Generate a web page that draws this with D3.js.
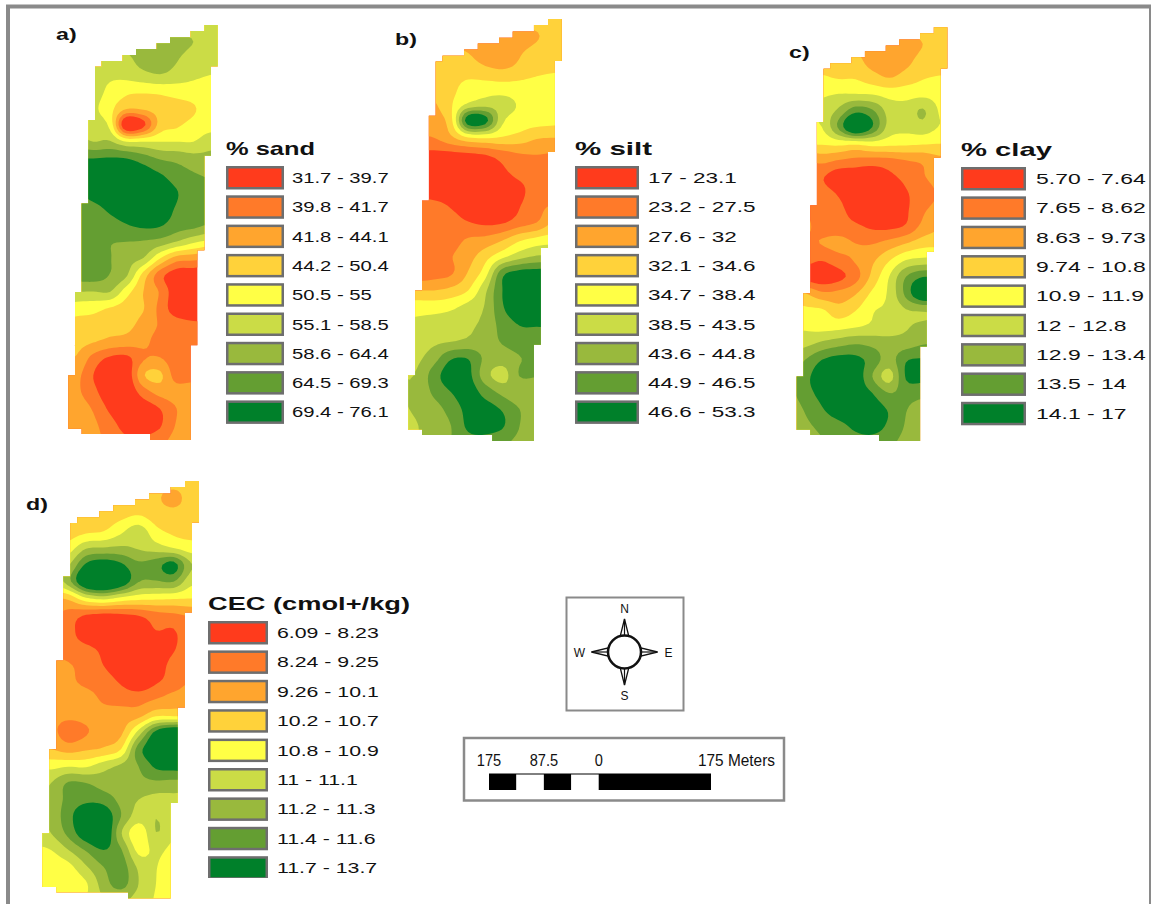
<!DOCTYPE html>
<html>
<head>
<meta charset="utf-8">
<script src="https://cdn.jsdelivr.net/npm/d3@7"></script>
<style>
html, body { margin: 0; padding: 0; background: #fff; overflow: hidden; }
text { font-family: "Liberation Sans", Arial, sans-serif; fill: #111; }
</style>
</head>
<body>
<svg id="chart" width="1151" height="904"></svg>
<script>
// class colours, lowest to highest, same order on all four legends
const classColors = ['#ff3b1c', '#ff7a29', '#ffa52e', '#ffd23a', '#ffff45', '#cbdc46', '#99b93d', '#649e32', '#00802a'];

const sandLabels = ['31.7 - 39.7', '39.8 - 41.7', '41.8 - 44.1', '44.2 - 50.4', '50.5 - 55', '55.1 - 58.5', '58.6 - 64.4', '64.5 - 69.3', '69.4 - 76.1'];
const siltLabels = ['17 - 23.1', '23.2 - 27.5', '27.6 - 32', '32.1 - 34.6', '34.7 - 38.4', '38.5 - 43.5', '43.6 - 44.8', '44.9 - 46.5', '46.6 - 53.3'];
const clayLabels = ['5.70 - 7.64', '7.65 - 8.62', '8.63 - 9.73', '9.74 - 10.8', '10.9 - 11.9', '12 - 12.8', '12.9 - 13.4', '13.5 - 14', '14.1 - 17'];
const cecLabels = ['6.09 - 8.23', '8.24 - 9.25', '9.26 - 10.1', '10.2 - 10.7', '10.8 - 10.9', '11 - 11.1', '11.2 - 11.3', '11.4 - 11.6', '11.7 - 13.7'];

// field boundary in raster cells
const fieldOutline = [
  [20.4, 0], [22.4, 0], [22.4, 6.2], [21.4, 6.2], [21.4, 19.6], [20.4, 19.6], [20.4, 33.75], [19.35, 33.75],
  [19.35, 48], [18.35, 48], [18.35, 62.2], [12.25, 62.2], [12.25, 61.3], [2, 61.3], [2, 60.5], [0, 60.5],
  [0, 52.5], [1, 52.5], [1, 40], [2, 40], [2, 26.75], [3, 26.75], [3, 14.25], [4, 14.25], [4, 6.25], [5, 6.25],
  [5, 5.4], [8.15, 5.4], [8.15, 4.5], [10.15, 4.5], [10.15, 3.6], [13.25, 3.6], [13.25, 2.75], [15.25, 2.75],
  [15.25, 1.85], [18.35, 1.85], [18.35, 0.9], [20.4, 0.9]
];

// sampled surfaces, read off the maps: value k..k+1 falls in legend class k
// 11 columns x 27 rows, every 2.5 raster cells
const sandGrid = [
  [5.5,5.5,5.5,5.5,5.5,5.5,5.5,5.5,5.5,5.5,5.5],
  [5.5,5.5,5.5,5.5,5.5,5.5,5.5,5.5,5.5,5.5,5.5],
  [6.3,6.3,6.3,6.3,6.3,6.3,6.4,6.4,6.0,5.5,5.5],
  [5.5,5.5,5.5,5.5,5.8,6.4,6.5,6.1,5.5,5.5,5.5],
  [5.5,5.5,5.5,5.2,5.3,5.7,5.95,5.6,5.2,5.0,4.9],
  [5.5,5.5,5.5,4.7,4.2,4.1,4.2,4.4,4.5,4.5,4.5],
  [5.2,5.2,5.2,4.3,3.1,3.2,3.5,3.6,3.9,4.5,4.5],
  [5.4,5.4,5.4,4.7,-0.3,0.7,3.4,3.85,4.3,4.6,4.6],
  [6.5,6.5,6.0,6.1,5.0,5.0,5.0,5.0,5.0,5.6,5.6],
  [8,8,8.0,8.1,8.0,7.5,6.9,6.7,6.4,6.3,6.3],
  [8.5,8.5,8.6,8.7,8.6,8.5,8.1,7.5,7.1,6.9,6.8],
  [7.8,7.9,8.5,8.7,8.7,8.6,8.5,8.05,7.4,7.2,7.2],
  [7.4,7.4,7.7,8.2,8.6,8.6,8.5,7.9,7.3,7.1,7.1],
  [7.4,7.4,7.5,7.6,7.95,8.2,8.1,7.5,7.3,6.9,6.9],
  [7.5,7.5,7.3,7.05,7.0,6.9,6.6,5.95,5.2,4.7,4.6],
  [7.5,7.5,7.6,7.05,6.4,5.95,4.0,2.5,2.3,2.0,2.0],
  [7.3,7.4,7.5,6.95,6.1,3.6,1.4,0.4,0.3,0.2,0.2],
  [6.0,6.0,5.95,6.0,4.4,3.0,1.9,0.3,0.2,0.2,0.2],
  [4.7,4.4,4.3,3.9,3.5,3.05,1.7,0.4,0.3,0.3,0.3],
  [3.6,3.7,3.6,3.4,3.3,2.6,1.9,1.5,1.2,1.2,1.2],
  [3.2,3.3,3.05,2.7,2.5,2.2,1.7,1.5,1.4,1.4,1.4],
  [2.9,2.9,1.6,0.8,0.7,1.9,2.05,1.4,1.4,1.4,1.4],
  [2.5,2.3,1.0,0.3,0.3,2.9,3.2,1.5,1.6,1.6,1.6],
  [2.5,2.2,1.3,0.3,0.2,1.5,2.4,2.5,2.6,2.6,2.6],
  [2.5,2.5,1.9,0.8,0.2,0.4,1.0,2.0,2.5,2.5,2.5],
  [2.5,2.5,2.2,1.4,0.6,0.5,0.9,2.1,2.5,2.5,2.5],
  [2.5,2.5,2.3,1.7,1.2,1.2,1.7,2.4,2.5,2.5,2.5]
];

const siltGrid = [
  [3.5,3.5,3.5,3.5,3.5,3.5,3.5,3.5,3.5,3.5,3.5],
  [3.5,3.5,3.5,3.5,3.5,3.5,3.5,3.5,3.5,3.5,3.5],
  [2.6,2.6,2.6,2.6,2.6,2.6,2.5,2.5,2.9,3.5,3.5],
  [3.5,3.5,3.5,3.3,3.0,2.6,2.4,2.9,3.4,3.6,3.6],
  [3.6,3.6,3.6,3.6,3.5,3.2,3.03,3.3,3.7,3.9,3.9],
  [3.4,3.4,3.5,3.7,4.4,4.5,4.4,4.4,4.5,4.5,4.5],
  [2.8,2.8,2.9,3.9,5.1,5.5,5.4,4.9,4.6,4.5,4.5],
  [2.4,2.4,2.5,3.7,8.7,8.4,5.2,4.6,4.4,4.3,4.2],
  [2.0,2.0,2.0,2.8,3.9,4.1,3.9,3.6,3.1,3.0,3.0],
  [0.7,0.7,0.7,0.7,0.8,1.0,1.5,1.9,2.0,1.9,1.9],
  [0.3,0.3,0.3,0.3,0.3,0.4,0.8,1.4,1.6,1.6,1.6],
  [0.5,0.5,0.3,0.3,0.3,0.3,0.3,0.75,1.5,1.6,1.6],
  [1.5,1.4,1.3,0.9,0.4,0.3,0.3,0.95,1.7,2.05,2.05],
  [1.5,1.5,1.5,1.4,1.05,0.8,0.9,1.5,2.0,3.1,3.1],
  [1.5,1.5,1.5,1.6,2.1,2.3,2.9,3.8,4.3,4.6,4.7],
  [1.5,1.5,1.5,1.95,2.6,3.6,4.7,5.6,6.1,6.1,6.1],
  [1.5,1.4,1.6,1.9,3.1,4.6,7.7,8.4,8.5,8.5,8.5],
  [3.0,3.0,3.0,3.3,4.0,5.8,8.0,8.5,8.6,8.6,8.6],
  [4.5,4.6,4.6,4.8,5.4,6.1,7.9,8.7,8.8,8.8,8.8],
  [5.1,5.2,5.4,5.6,5.8,6.3,7.4,8.05,8.1,8.1,8.1],
  [5.4,5.5,5.8,5.95,6.2,6.5,7.1,7.5,7.5,7.5,7.5],
  [5.7,5.8,6.6,7.9,7.95,6.8,6.5,6.95,7.3,7.3,7.3],
  [6.0,6.1,7.5,8.6,8.3,6.4,5.6,7.05,7.1,7.1,7.1],
  [6.0,6.2,7.2,8.0,8.5,7.6,6.7,6.2,6.1,6.1,6.1],
  [5.8,6.2,6.6,7.4,8.3,8.4,7.9,7.0,6.3,6.3,6.3],
  [5.2,5.95,6.4,7.0,8.2,8.4,8.1,7.0,6.3,6.3,6.3],
  [5.5,6.0,6.3,7.0,7.6,7.6,7.2,6.7,6.3,6.3,6.3]
];

const clayGrid = [
  [3.5,3.5,3.5,3.5,3.5,3.5,3.5,3.5,3.5,3.5,3.5],
  [3.5,3.5,3.5,3.5,3.5,3.5,3.5,3.5,3.5,3.5,3.5],
  [3.2,3.2,3.2,3.2,3.0,2.6,2.5,2.5,3.0,3.5,3.5],
  [3.5,3.5,3.5,3.5,3.3,2.6,2.4,2.7,3.4,3.6,3.6],
  [4.1,4.1,4.1,3.9,3.9,3.4,2.95,3.4,3.9,4.05,4.05],
  [4.9,4.9,4.85,5.0,5.0,4.9,4.6,4.6,4.7,4.6,4.6],
  [5,5,5.3,6.2,7.6,7.1,5.6,5.4,6.1,4.9,4.8],
  [4.9,4.9,5.0,7.2,9.7,8.0,5.6,5.3,5.6,4.95,4.9],
  [4.1,4.1,4.1,4.3,4.2,4.5,4.3,4.2,4.1,4,4],
  [1.9,1.9,2.3,1.95,1.7,1.6,1.7,2.0,2.2,2.7,2.7],
  [1.6,1.6,1.1,0.4,0.4,0.3,0.75,1.3,1.9,2.4,2.4],
  [1.7,1.7,1.4,0.9,0.3,0.3,0.3,0.9,1.5,2.1,2.2],
  [1.9,1.9,1.6,1.3,0.5,0.3,0.3,0.85,1.85,2.3,2.3],
  [2.2,2.2,1.6,1.5,1.2,0.85,0.8,1.15,2.3,2.9,2.9],
  [1.9,1.7,2.05,2.3,2.0,1.95,2.4,3.0,3.6,3.7,3.7],
  [1.1,1.3,1.05,1.6,2.1,2.8,3.9,5.0,5.3,5.3,5.3],
  [0.5,0.5,0.3,0.7,1.6,3.3,5.0,7.0,7.95,7.9,7.9],
  [3.0,3.0,2.2,2.3,2.9,4.2,5.2,7.3,9.3,9.0,9.0],
  [4.4,4.2,4.1,3.4,3.95,4.9,5.2,5.95,6.1,6.2,6.2],
  [4.9,4.8,4.6,4.65,4.9,5.2,5.4,5.9,6.2,6.3,6.3],
  [5.7,5.7,6.2,6.6,6.9,6.7,6.4,6.5,6.9,6.9,6.9],
  [6.2,7.0,8.0,8.4,8.3,7.6,6.6,7.9,8.1,8.1,8.1],
  [7.0,7.7,8.6,8.8,8.7,7.0,5.6,8.1,8.3,8.3,8.3],
  [6.7,7.6,8.3,8.7,8.6,8.0,7.0,7.4,7.3,7.2,7.2],
  [6.2,7.1,7.9,8.5,8.6,8.5,7.9,7.05,6.5,6.4,6.4],
  [6.0,6.7,7.3,7.7,8.2,8.4,7.8,6.9,6.4,6.4,6.4],
  [5.9,6.2,6.9,7.2,7.6,7.6,7.2,6.7,6.3,6.3,6.3]
];

const cecGrid = [
  [3.5,3.5,3.5,3.5,3.5,3.5,3.5,3.5,3.5,3.5,3.5],
  [3.5,3.5,3.5,3.5,3.5,3.5,3.5,3.5,3.5,3.5,3.5],
  [3.5,3.5,3.5,3.5,3.5,3.5,3.5,3.2,2.6,3.5,3.5],
  [3.5,3.5,3.5,3.5,3.5,3.7,3.95,3.5,3.4,3.4,3.4],
  [3.5,3.5,3.5,3.8,4.0,4.8,5.6,4.3,3.8,3.6,3.6],
  [4.3,4.3,4.5,5.9,6.1,6.2,5.9,5.5,5.0,4.5,4.5],
  [5.5,5.5,5.9,8.2,8.8,8.2,7.2,7.6,8.4,6.1,6.0],
  [5.0,5.0,6.6,9.5,10.2,9.0,7.05,6.9,7.0,5.3,5.3],
  [2.9,3.0,3.2,4.8,5.3,4.7,4.3,4.2,4.1,4.0,4.0],
  [2.0,2.1,1.6,0.95,0.7,0.8,1.05,1.6,1.8,2.1,2.1],
  [1.6,1.6,1.3,0.5,0.3,0.3,0.4,0.95,0.9,1.8,1.9],
  [1.9,1.8,1.5,1.2,0.8,0.3,0.3,0.3,0.9,1.7,1.8],
  [2.5,2.4,2.1,1.6,1.0,0.4,0.3,0.4,1.4,1.8,1.8],
  [2.5,2.5,2.2,1.8,1.5,0.9,0.4,0.9,1.5,2.1,2.2],
  [2.5,2.5,2.5,2.4,1.85,1.6,1.6,2.0,2.5,2.6,2.6],
  [2.4,2.3,2.2,2.3,2.4,2.5,2.7,3.9,3.9,3.9,3.9],
  [2.2,2.3,1.5,1.9,2.6,2.8,5.4,8.4,9.5,9.5,9.5],
  [3.0,3.0,2.6,2.9,3.15,4.0,7.5,8.9,9.0,9.0,9.0],
  [4.9,4.7,4.9,4.85,5.6,6.2,7.0,8.2,8.4,8.4,8.4],
  [5.6,6.0,7.1,7.0,6.5,6.4,6.7,6.8,6.7,6.7,6.7],
  [5.8,6.1,7.4,7.8,7.6,6.7,6.0,5.7,5.7,5.7,5.7],
  [5.9,6.2,7.7,8.7,8.9,7.0,5.5,5.98,5.5,5.5,5.5],
  [5.5,6.0,7.3,8.8,9.3,6.1,4.3,5.98,5.2,5.1,5.1],
  [4.8,5.0,6.0,7.1,8.0,7.1,4.7,5.25,4.7,4.6,4.6],
  [4.2,4.3,4.7,5.9,7.0,7.5,5.8,5.05,4.5,4.5,4.5],
  [4.3,4.3,4.4,4.9,6.5,7.4,6.0,5.0,4.5,4.5,4.5],
  [4.4,4.4,4.5,5.0,6.0,6.2,5.6,4.9,4.5,4.5,4.5]
];

// scale bar break points, meters either side of the 0 mark
const scaleBreaks = [-175, -131.25, -87.5, -43.75, 0, 175];
const scaleTicks = [-175, -87.5, 0];

const maps = [
  { letter: 'a)', letterX: 56, letterY: 40, grid: sandGrid, title: '% sand', labels: sandLabels,
    xRange: [68.3, 217.7], yRange: [25, 440], legendX: 226, legendY: 166, swatchW: 58, rowStep: 29.3, textX: 292, textScale: 1.35, titleW: 89 },
  { letter: 'b)', letterX: 395, letterY: 45, grid: siltGrid, title: '% silt', labels: siltLabels,
    xRange: [408.3, 561.7], yRange: [19, 441], legendX: 575, legendY: 166, swatchW: 64, rowStep: 29.3, textX: 648, textScale: 1.5, titleW: 77 },
  { letter: 'c)', letterX: 789, letterY: 58, grid: clayGrid, title: '% clay', labels: clayLabels,
    xRange: [796.7, 947.3], yRange: [27.3, 441], legendX: 961, legendY: 167, swatchW: 65, rowStep: 29.35, textX: 1036, textScale: 1.53, titleW: 91 },
  { letter: 'd)', letterX: 26, letterY: 510, grid: cecGrid, title: 'CEC (cmol+/kg)', labels: cecLabels,
    xRange: [42.3, 199], yRange: [481, 898.3], legendX: 208, legendY: 621, swatchW: 60, rowStep: 29.4, textX: 277, textScale: 1.42, titleW: 202 }
];

const gridCols = 11;
const gridRows = 27;
const upsample = 5;
const thresholds = d3.range(1, classColors.length);

const svg = d3.select('#chart');

// outer frame, heavy on the left and top, thin on the right
svg.append('path')
  .attr('d', 'M8,904V6.5H1151')
  .attr('fill', 'none')
  .attr('stroke', '#8a8a8a')
  .attr('stroke-width', 4);
svg.append('rect').attr('x', 1149).attr('y', 6).attr('width', 2).attr('height', 898).attr('fill', '#8a8a8a');

function catmullRom(p0, p1, p2, p3, t) {
  return 0.5 * (2 * p1 + (p2 - p0) * t + (2 * p0 - 5 * p1 + 4 * p2 - p3) * t * t + (3 * p1 - p0 - 3 * p2 + p3) * t * t * t);
}

// resample the read grid on a finer mesh so band edges come out round
function fineGrid(grid) {
  const w = (gridCols - 1) * upsample + 1;
  const h = (gridRows - 1) * upsample + 1;
  const at = (r, c) => grid[Math.max(0, Math.min(gridRows - 1, r))][Math.max(0, Math.min(gridCols - 1, c))];
  const values = new Array(w * h);
  for (let j = 0; j < h; j++) {
    const r = Math.min(Math.floor(j / upsample), gridRows - 2);
    const v = j / upsample - r;
    for (let i = 0; i < w; i++) {
      const c = Math.min(Math.floor(i / upsample), gridCols - 2);
      const u = i / upsample - c;
      const rows = [-1, 0, 1, 2].map(dr =>
        catmullRom(at(r + dr, c - 1), at(r + dr, c), at(r + dr, c + 1), at(r + dr, c + 2), u));
      values[j * w + i] = catmullRom(rows[0], rows[1], rows[2], rows[3], v);
    }
  }
  return { w, h, values };
}

function stretchedText(parent, str, x, y, size, sx, bold) {
  return parent.append('text')
    .attr('transform', `translate(${x},${y}) scale(${sx},1)`)
    .attr('font-size', size)
    .attr('font-weight', bold ? 700 : 400)
    .text(str);
}

function drawMap(map, i) {
  const x = d3.scaleLinear().domain([0, 22.4]).range(map.xRange);
  const y = d3.scaleLinear().domain([0, 62.2]).range(map.yRange);
  const fine = fineGrid(map.grid);
  // d3.contours puts grid value i at i + 0.5
  const gridX = d3.scaleLinear().domain([0.5, fine.w - 0.5]).range([-1.25, 23.75]);
  const gridY = d3.scaleLinear().domain([0.5, fine.h - 0.5]).range([-2.5, 62.5]);

  const clipId = 'field-' + i;
  svg.append('clipPath').attr('id', clipId)
    .append('path')
    .attr('d', d3.line().x(d => x(d[0])).y(d => y(d[1])).curve(d3.curveLinearClosed)(fieldOutline));

  const g = svg.append('g').attr('clip-path', `url(#${clipId})`);

  // class 0 sits under everything
  g.append('rect')
    .attr('x', map.xRange[0] - 2)
    .attr('y', map.yRange[0] - 2)
    .attr('width', map.xRange[1] - map.xRange[0] + 4)
    .attr('height', map.yRange[1] - map.yRange[0] + 4)
    .attr('fill', classColors[0]);

  const contours = d3.contours()
    .size([fine.w, fine.h])
    .thresholds(thresholds)(fine.values);

  const path = d3.geoPath(d3.geoTransform({
    point: function(px, py) { this.stream.point(x(gridX(px)), y(gridY(py))); }
  }));

  g.selectAll('path.band')
    .data(contours)
    .enter()
    .append('path')
    .attr('class', 'band')
    .attr('fill', d => classColors[d.value])
    .attr('fill-rule', 'evenodd')
    .attr('d', path);

  stretchedText(svg, map.letter, map.letterX, map.letterY, 16, 1.45, true);

  // legend
  const legend = svg.append('g');
  legend.append('text')
    .attr('x', map.legendX)
    .attr('y', map.legendY - 11)
    .attr('font-size', 19)
    .attr('font-weight', 700)
    .attr('textLength', map.titleW)
    .attr('lengthAdjust', 'spacingAndGlyphs')
    .text(map.title);

  const rows = legend.selectAll('g.row')
    .data(map.labels)
    .enter()
    .append('g')
    .attr('class', 'row')
    .attr('transform', (d, k) => `translate(0,${map.legendY + k * map.rowStep})`);

  rows.append('rect')
    .attr('x', map.legendX + 1.25)
    .attr('y', 1.25)
    .attr('width', map.swatchW - 2.5)
    .attr('height', 21)
    .attr('fill', (d, k) => classColors[k])
    .attr('stroke', '#6e6e6e')
    .attr('stroke-width', 2.5);

  rows.each(function(d) {
    stretchedText(d3.select(this), d, map.textX, 17, 15, map.textScale, false);
  });
}

maps.forEach(drawMap);

// white strip hides the bottom edge of the last CEC swatch, as in the source image
svg.append('rect').attr('x', 205).attr('y', 878).attr('width', 68).attr('height', 8).attr('fill', '#fff');

// north arrow
const compass = svg.append('g');
compass.append('rect')
  .attr('x', 566.5).attr('y', 597.5).attr('width', 117).attr('height', 113)
  .attr('fill', '#fff').attr('stroke', '#8a8a8a').attr('stroke-width', 2);
const compassX = 624.5;
const compassY = 652;
[0, 90, 180, 270].forEach(angle => {
  const spike = compass.append('g')
    .attr('transform', `translate(${compassX},${compassY}) rotate(${angle})`);
  spike.append('path')
    .attr('d', 'M0,-33L-4.5,-15L4.5,-15Z')
    .attr('fill', '#fff').attr('stroke', '#111').attr('stroke-width', 1.3);
  spike.append('path')
    .attr('d', 'M0,-33L0,-15')
    .attr('stroke', '#111').attr('stroke-width', 1.2);
});
compass.append('circle')
  .attr('cx', compassX).attr('cy', compassY).attr('r', 16.5)
  .attr('fill', '#fff').attr('stroke', '#111').attr('stroke-width', 2.5);
[['N', 0, -39], ['S', 0, 48], ['W', -45, 5], ['E', 44, 5]].forEach(c => {
  compass.append('text')
    .attr('x', compassX + c[1]).attr('y', compassY + c[2])
    .attr('text-anchor', 'middle')
    .attr('font-size', 12)
    .attr('fill', '#333')
    .text(c[0]);
});

// scale bar
const bar = svg.append('g');
bar.append('rect')
  .attr('x', 464).attr('y', 738).attr('width', 320).attr('height', 62.5)
  .attr('fill', '#fff').attr('stroke', '#8a8a8a').attr('stroke-width', 2.5);
const barScale = d3.scaleLinear().domain([-175, 0, 175]).range([489, 598.7, 711]);
bar.selectAll('rect.seg')
  .data(d3.pairs(scaleBreaks))
  .enter()
  .append('rect')
  .attr('class', 'seg')
  .attr('x', d => barScale(d[0]))
  .attr('y', 774)
  .attr('width', d => barScale(d[1]) - barScale(d[0]))
  .attr('height', 16)
  .attr('fill', (d, k) => k % 2 === 0 ? '#000' : '#fff');
bar.append('line')
  .attr('x1', barScale(-175)).attr('x2', barScale(175))
  .attr('y1', 774).attr('y2', 774)
  .attr('stroke', '#000').attr('stroke-width', 1);
bar.selectAll('text.tick')
  .data(scaleTicks)
  .enter()
  .append('text')
  .attr('class', 'tick')
  .attr('transform', d => `translate(${barScale(d)},766) scale(0.86,1)`)
  .attr('text-anchor', 'middle')
  .attr('font-size', 17)
  .attr('fill', '#222')
  .text(d => Math.abs(d));
bar.append('text')
  .attr('x', 698)
  .attr('y', 766)
  .attr('font-size', 17)
  .attr('fill', '#222')
  .attr('textLength', 77)
  .attr('lengthAdjust', 'spacingAndGlyphs')
  .text('175 Meters');
</script>
</body>
</html>
